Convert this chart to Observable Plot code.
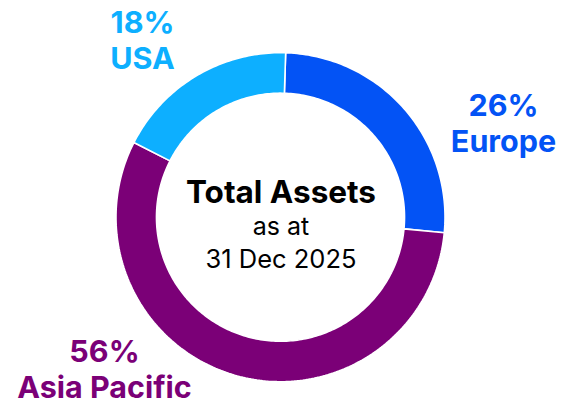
<!DOCTYPE html>
<html>
<head>
<meta charset="utf-8">
<script src="https://cdn.jsdelivr.net/npm/d3@7"></script>
<script src="https://cdn.jsdelivr.net/npm/@observablehq/plot@0.6"></script>
<style>
  html, body { margin: 0; padding: 0; background: #ffffff; }
  #chart { width: 562px; height: 403px; }
</style>
</head>
<body>
<div id="chart"></div>
<script>
// ---- data ----
const regions = ["Europe", "Asia Pacific", "USA"];
const shares = [26, 56, 18];
const pctLabels = ["26%", "56%", "18%"];
const colors = ["#0353F5", "#7B0077", "#0DAFFF"];
const centerTitle = "Total Assets";
const centerLines = ["as at", "31 Dec 2025"];

// ---- layout constants ----
const W = 562, H = 403;
const cxPx = 280.5, cyPx = 217.2, Rpx = 164.5;
const innerRatio = 0.754;
const startOffsetDeg = 1.8;
// label anchors (pixel layout of reference) per region: centre x, last baseline y
const labelPx = {
  "Europe": [503, 151],
  "Asia Pacific": [104, 397],
  "USA": [142, 68]
};
const toX = px => (px - cxPx) / Rpx;
const toY = py => (cyPx - py) / Rpx;

// ---- build ring geometry from data ----
const total = d3.sum(shares);
const ring = [];
let acc = 0;
regions.forEach((reg, i) => {
  const a0 = acc / total, a1 = (acc + shares[i]) / total;
  acc += shares[i];
  const n = Math.max(2, Math.ceil((a1 - a0) * 360));
  for (let k = 0; k <= n; k++) {
    const t = a0 + (a1 - a0) * k / n;
    const th = (startOffsetDeg / 180) * Math.PI + t * 2 * Math.PI;
    ring.push({
      region: reg,
      ox: Math.sin(th), oy: Math.cos(th),
      ix: innerRatio * Math.sin(th), iy: innerRatio * Math.cos(th)
    });
  }
});

const labels = regions.map((reg, i) => ({
  region: reg,
  text: pctLabels[i] + "\n" + reg,
  x: toX(labelPx[reg][0]),
  y: toY(labelPx[reg][1])
}));

const plot = Plot.plot({
  width: W,
  height: H,
  margin: 0,
  x: { domain: [toX(0), toX(W)], axis: null },
  y: { domain: [toY(H), toY(0)], axis: null },
  color: { domain: regions, range: colors },
  style: { background: "#ffffff", fontFamily: "Inter, 'Noto Sans', sans-serif" },
  marks: [
    Plot.area(ring, {
      x1: "ox", y1: "oy", x2: "ix", y2: "iy",
      z: "region", fill: "region",
      stroke: "#ffffff", strokeWidth: 1.6, strokeLinejoin: "miter"
    }),
    Plot.text(labels, {
      x: "x", y: "y", text: "text", fill: "region",
      fontSize: 30.5, fontWeight: 700, lineHeight: 1.15,
      textAnchor: "middle", lineAnchor: "bottom"
    }),
    Plot.text([centerTitle], {
      x: 0, y: toY(202), text: d => d, fill: "#000000",
      fontSize: 31.5, fontWeight: 700, textAnchor: "middle", lineAnchor: "bottom"
    }),
    Plot.text([centerLines[0]], {
      x: 0, y: toY(234), text: d => d, fill: "#000000",
      fontSize: 25, fontWeight: 400, textAnchor: "middle", lineAnchor: "bottom"
    }),
    Plot.text([centerLines[1]], {
      x: 0, y: toY(267), text: d => d, fill: "#000000",
      fontSize: 25.5, fontWeight: 400, textAnchor: "middle", lineAnchor: "bottom"
    })
  ]
});
document.getElementById("chart").appendChild(plot);
</script>
</body>
</html>
